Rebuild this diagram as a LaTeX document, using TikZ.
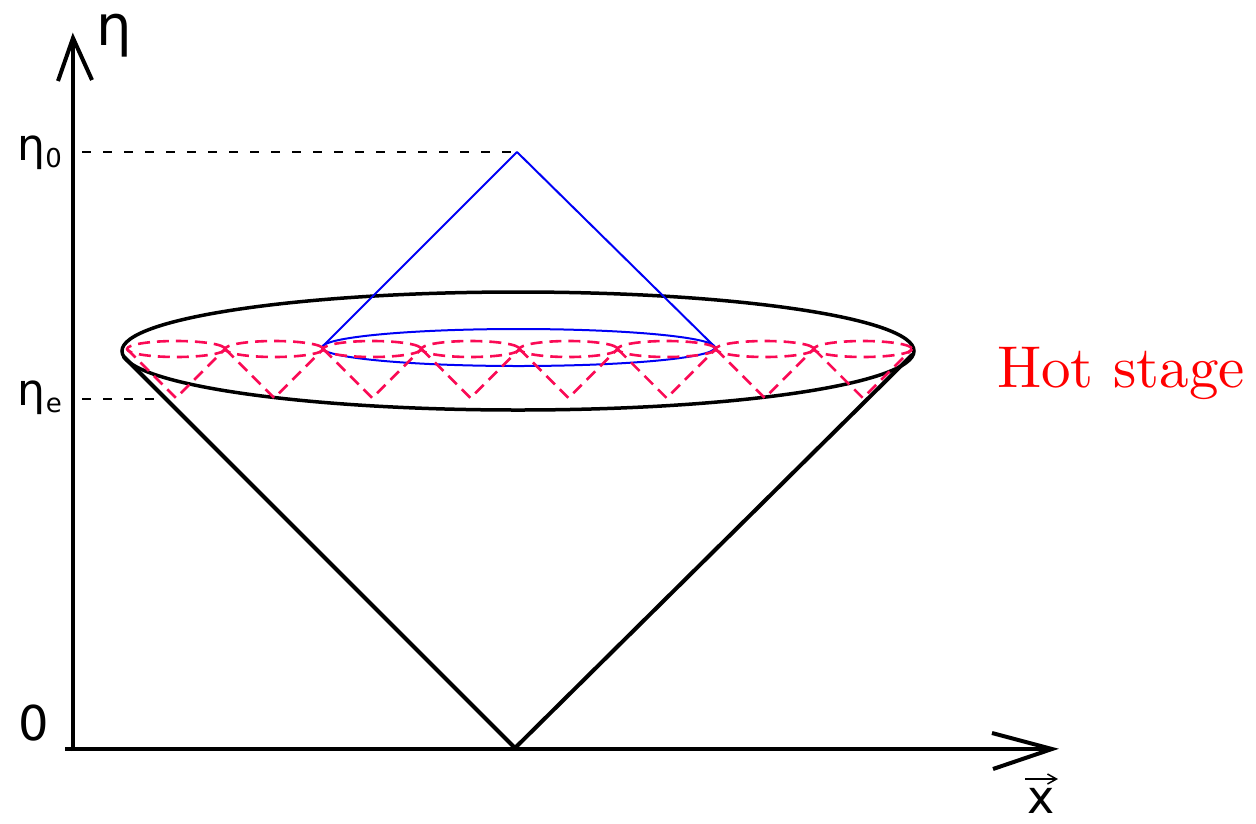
\documentclass[tikz,border=0pt]{standalone}
\usepackage{fontspec}
\usetikzlibrary{arrows.meta}
\newfontfamily\dejavu{DejaVu Sans}
\newfontfamily\lmten{lmroman10-regular}[Extension=.otf]
\definecolor{hotred}{RGB}{250,10,85}
\definecolor{lblue}{RGB}{0,0,245}
\begin{document}
\begin{tikzpicture}[x=1pt,y=-1pt,
  axis/.style={line width=4pt},
  conel/.style={line width=4pt, line join=round, line cap=round},
  bigell/.style={line width=3.5pt},
  bluel/.style={line width=2pt, lblue, line join=round},
  reddash/.style={line width=2.6pt, hotred, dash pattern=on 12pt off 7pt},
  guide/.style={line width=1.5pt, dash pattern=on 9pt off 12pt},
  lab/.style={inner sep=0pt, font=\dejavu\fontsize{44}{44}\selectfont}]
\useasboundingbox (0,0) rectangle (1256,823);
% axes
\coordinate (O) at (73,750);
\coordinate (ytip) at (73,38);
\coordinate (xstart) at (65,749);
\coordinate (xtip) at (1052,749);
\draw[axis] (73,751) -- (ytip);
\draw[axis, line join=miter] (58,81) -- (ytip) -- (92,80);
\draw[axis] (xstart) -- (xtip);
\draw[axis, line join=miter] (992,733) -- (xtip) -- (993,769);
% labels
\node[lab, font=\dejavu\fontsize{56}{56}\selectfont, anchor=base west] (eta) at (96,45) {η};
\node[lab, anchor=base east] (eta0) at (62,160) {η\raisebox{-0.18em}{\fontsize{26}{26}\selectfont 0}};
\node[lab, anchor=base east] (etae) at (62,405) {η\raisebox{-0.18em}{\fontsize{26}{26}\selectfont e}};
\node[lab, font=\dejavu\fontsize{48}{48}\selectfont, anchor=base] (zero) at (34,740) {0};
\node[lab, font=\dejavu\fontsize{46}{46}\selectfont, anchor=base] (xvec) at (1041,813) {x};
\coordinate (va) at (1025,779);
\coordinate (vb) at (1058,779);
\draw[line width=1.5pt, -{Straight Barb[length=9pt,width=10pt]}] (va) -- (vb);
\node[inner sep=0pt, anchor=base west, text=red, font=\lmten\fontsize{59}{59}\selectfont] (hot) at (997,387) {Hot stage};
% guide dashed lines
\coordinate (g0) at (517,152);
\coordinate (ge) at (168,399);
\draw[guide] (82,152) -- (g0);
\draw[guide] (82,399) -- (ge);
% big cone
\coordinate (apex) at (515,748);
\coordinate (L) at (124,357);
\coordinate (R) at (912,355);
\draw[conel] (L) -- (apex) -- (R);
\draw[bigell] (518,351) ellipse [x radius=396, y radius=59];
% blue cone
\coordinate (bapex) at (517,152);
\coordinate (bl) at (322,347);
\coordinate (br) at (715,347);
\draw[bluel] (bl) -- (bapex) -- (br);
\draw[bluel] (518.5,347.5) ellipse [x radius=196.5, y radius=18.5];
% small red cones
\foreach \i in {0,...,7}{
  \pgfmathsetmacro{\cx}{127+49.06+98.12*\i}
  \draw[reddash] (\cx,349) ellipse [x radius=49, y radius=8];
  \draw[reddash] (\cx-49,349) -- (\cx,398) -- (\cx+49,349);
}
\end{tikzpicture}
\end{document}
